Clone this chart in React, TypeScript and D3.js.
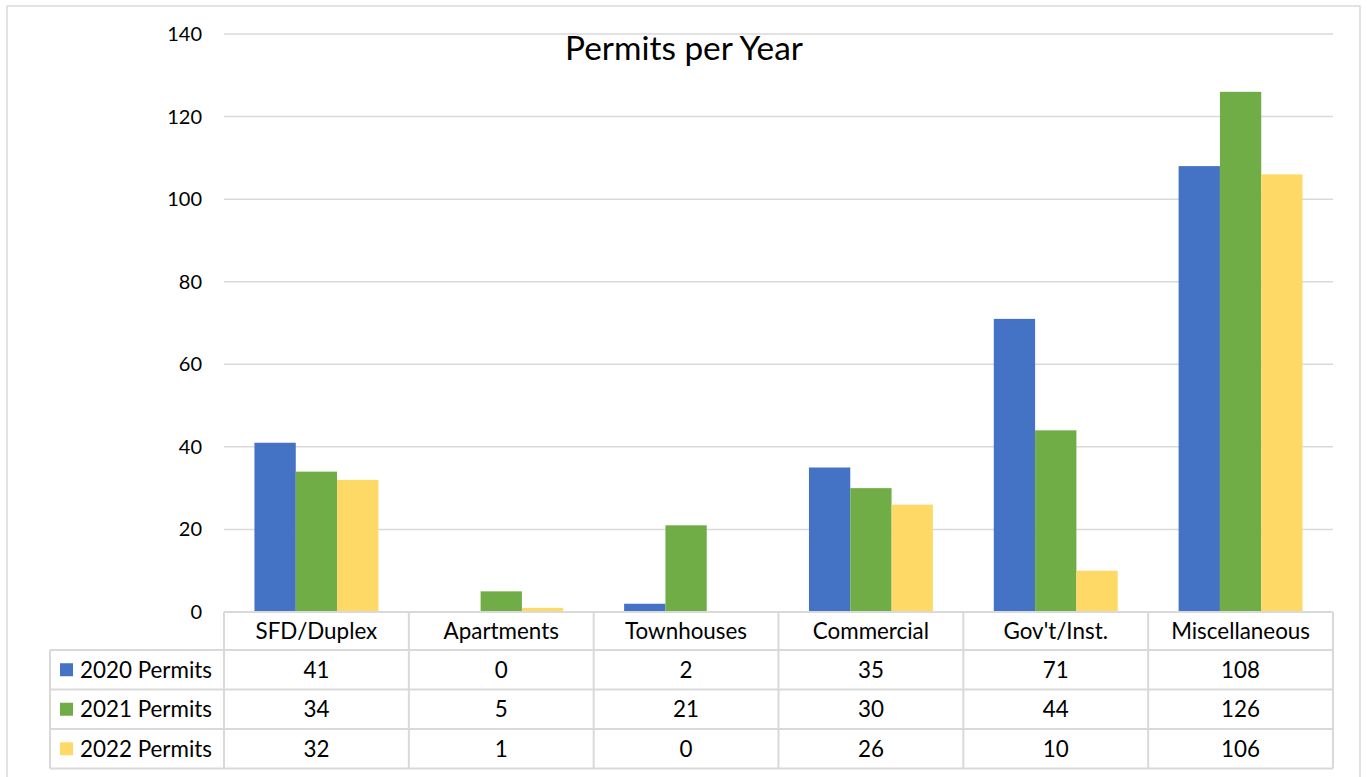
import React from "react";
import * as d3 from "d3";

const categories = ["SFD/Duplex", "Apartments", "Townhouses", "Commercial", "Gov't/Inst.", "Miscellaneous"];
const seriesNames = ["2020 Permits", "2021 Permits", "2022 Permits"];
const values2020 = [41, 0, 2, 35, 71, 108];
const values2021 = [34, 5, 21, 30, 44, 126];
const values2022 = [32, 1, 0, 26, 10, 106];
const yTicks = [0, 20, 40, 60, 80, 100, 120, 140];
const title = "Permits per Year";

const seriesValues = [values2020, values2021, values2022];
const colors = ["#4472C4", "#70AD47", "#FFD966"];

const W = 1367;
const H = 777;
const FONT = "Lato, 'Open Sans', sans-serif";

export default function App() {
  const left = 224;
  const right = 1333;
  const top = 34;
  const bottom = 612;
  const tableLeft = 50;
  const rowH = 39.5;
  const headerBottom = 650;

  const x = d3.scaleBand<string>().domain(categories).range([left, right]).padding(0);
  const inner = d3
    .scaleBand<string>()
    .domain(seriesNames)
    .range([0, x.bandwidth()])
    .paddingInner(0)
    .paddingOuter(0.737);
  const y = d3.scaleLinear().domain([0, 140]).range([bottom, top]);

  const rowTops = seriesNames.map((_, i) => headerBottom + i * rowH);
  const tableBottom = headerBottom + seriesNames.length * rowH;
  const lineColor = "#d9d9d9";
  const tableFont = 22.4;

  return (
    <svg
      width={W}
      height={H}
      style={{ position: "fixed", left: 0, top: 0, background: "#fff" }}
      fontFamily={FONT}
    >
      <rect x={7} y={6} width={1353} height={H + 10} fill="#fff" stroke={lineColor} strokeWidth={1.5} />
      {yTicks.map((t) => (
        <line key={"g" + t} x1={left} x2={right} y1={y(t)} y2={y(t)} stroke={lineColor} strokeWidth={1.5} />
      ))}
      {yTicks.map((t) => (
        <text key={"t" + t} x={202} y={y(t)} dy="0.35em" textAnchor="end" fontSize={20} fill="#000">
          {t}
        </text>
      ))}
      <text x={684} y={60} textAnchor="middle" fontSize={33.4} fill="#000">
        {title}
      </text>
      {seriesNames.map((s, si) =>
        categories.map((c, ci) => {
          const v = seriesValues[si][ci];
          return (
            <rect
              key={s + c}
              x={(x(c) as number) + (inner(s) as number)}
              y={y(v)}
              width={inner.bandwidth()}
              height={y(0) - y(v)}
              fill={colors[si]}
            />
          );
        })
      )}
      <g stroke={lineColor} strokeWidth={2} fill="none">
        <line x1={left} x2={right} y1={bottom} y2={bottom} />
        <line x1={tableLeft} x2={right} y1={headerBottom} y2={headerBottom} />
        {rowTops.map((r, i) => (
          <line key={"rl" + i} x1={tableLeft} x2={right} y1={r + rowH} y2={r + rowH} />
        ))}
        <line x1={tableLeft} x2={tableLeft} y1={headerBottom} y2={tableBottom} />
        {categories.map((c) => (
          <line key={"cl" + c} x1={x(c)} x2={x(c)} y1={bottom} y2={tableBottom} />
        ))}
        <line x1={right} x2={right} y1={bottom} y2={tableBottom} />
      </g>
      {categories.map((c) => (
        <text
          key={"h" + c}
          x={(x(c) as number) + x.bandwidth() / 2}
          y={(bottom + headerBottom) / 2}
          dy="0.35em"
          textAnchor="middle"
          fontSize={tableFont}
          fill="#000"
        >
          {c}
        </text>
      ))}
      {seriesNames.map((s, si) => (
        <g key={"row" + s}>
          <rect x={60} y={rowTops[si] + rowH / 2 - 6.5} width={13} height={13} fill={colors[si]} />
          <text x={80} y={rowTops[si] + rowH / 2} dy="0.35em" fontSize={tableFont} fill="#000">
            {s}
          </text>
          {categories.map((c, ci) => (
            <text
              key={"v" + s + c}
              x={(x(c) as number) + x.bandwidth() / 2}
              y={rowTops[si] + rowH / 2}
              dy="0.35em"
              textAnchor="middle"
              fontSize={tableFont}
              fill="#000"
            >
              {seriesValues[si][ci]}
            </text>
          ))}
        </g>
      ))}
    </svg>
  );
}
